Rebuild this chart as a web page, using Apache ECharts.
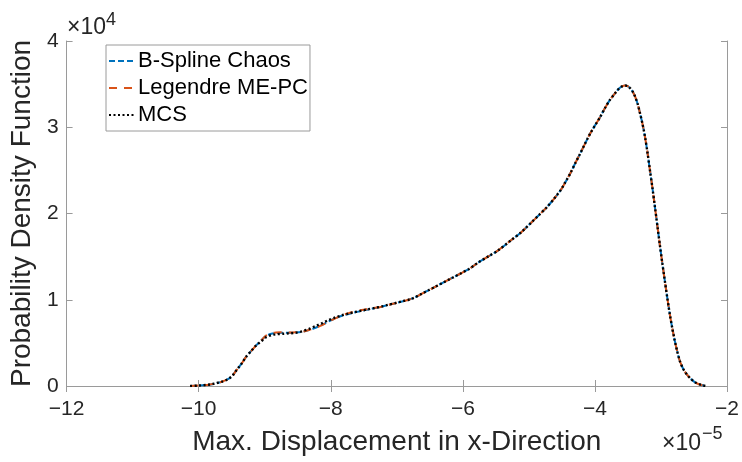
<!DOCTYPE html>
<html>
<head>
<meta charset="utf-8">
<script src="https://cdn.jsdelivr.net/npm/echarts@6/dist/echarts.min.js"></script>
<style>
  html, body { margin: 0; padding: 0; background: #fff; }
  #chart { width: 742px; height: 462px; }
</style>
</head>
<body>
<div id="chart"></div>
<script>
// Displacement in units of 1e-5, density in units of 1e4
const xValues = [-10.13, -10.0, -9.85, -9.75, -9.65, -9.58, -9.5, -9.43, -9.35, -9.28, -9.2, -9.13, -9.05, -8.98, -8.9, -8.83, -8.73, -8.63, -8.53, -8.43, -8.33, -8.23, -8.13, -8.03, -7.93, -7.83, -7.73, -7.63, -7.53, -7.43, -7.33, -7.23, -7.13, -7.02, -6.92, -6.82, -6.72, -6.62, -6.52, -6.42, -6.32, -6.22, -6.12, -6.02, -5.9, -5.77, -5.62, -5.47, -5.27, -5.12, -4.97, -4.85, -4.72, -4.62, -4.52, -4.45, -4.37, -4.3, -4.22, -4.15, -4.07, -4.0, -3.92, -3.85, -3.77, -3.7, -3.643, -3.59, -3.544, -3.505, -3.469, -3.43, -3.393, -3.355, -3.318, -3.28, -3.243, -3.205, -3.168, -3.13, -3.093, -3.055, -3.018, -2.98, -2.942, -2.905, -2.868, -2.83, -2.793, -2.755, -2.718, -2.668, -2.618, -2.555, -2.49, -2.4, -2.314];

const bsplineChaos = [0, 0.005, 0.015, 0.03, 0.05, 0.07, 0.11, 0.18, 0.26, 0.34, 0.41, 0.47, 0.53, 0.58, 0.605, 0.615, 0.618, 0.617, 0.62, 0.628, 0.648, 0.675, 0.71, 0.75, 0.785, 0.815, 0.835, 0.855, 0.872, 0.888, 0.903, 0.92, 0.94, 0.96, 0.98, 1.0, 1.03, 1.07, 1.11, 1.15, 1.19, 1.23, 1.27, 1.31, 1.36, 1.43, 1.5, 1.57, 1.69, 1.78, 1.89, 1.98, 2.08, 2.17, 2.27, 2.36, 2.47, 2.58, 2.7, 2.81, 2.93, 3.02, 3.12, 3.22, 3.32, 3.39, 3.443, 3.474, 3.484, 3.476, 3.454, 3.415, 3.357, 3.275, 3.164, 3.04, 2.893, 2.71, 2.505, 2.3, 2.083, 1.86, 1.64, 1.425, 1.22, 1.025, 0.84, 0.675, 0.531, 0.405, 0.298, 0.205, 0.144, 0.088, 0.046, 0.014, 0];

const legendreMEPC = [0, 0.005, 0.015, 0.03, 0.05, 0.07, 0.11, 0.18, 0.26, 0.34, 0.41, 0.47, 0.53, 0.585, 0.61, 0.62, 0.622, 0.62, 0.622, 0.63, 0.65, 0.675, 0.705, 0.745, 0.785, 0.82, 0.845, 0.865, 0.88, 0.893, 0.906, 0.92, 0.94, 0.96, 0.98, 1.0, 1.03, 1.07, 1.11, 1.15, 1.19, 1.23, 1.27, 1.31, 1.36, 1.43, 1.5, 1.57, 1.69, 1.78, 1.89, 1.98, 2.08, 2.17, 2.27, 2.36, 2.47, 2.58, 2.7, 2.81, 2.93, 3.02, 3.12, 3.22, 3.32, 3.39, 3.443, 3.474, 3.484, 3.476, 3.454, 3.415, 3.357, 3.275, 3.164, 3.04, 2.893, 2.71, 2.505, 2.3, 2.083, 1.86, 1.64, 1.425, 1.22, 1.025, 0.84, 0.675, 0.531, 0.405, 0.298, 0.205, 0.144, 0.088, 0.046, 0.014, 0];

const mcs = [0, 0.005, 0.015, 0.03, 0.05, 0.07, 0.11, 0.18, 0.26, 0.34, 0.41, 0.47, 0.52, 0.565, 0.59, 0.6, 0.605, 0.61, 0.618, 0.635, 0.662, 0.695, 0.73, 0.765, 0.795, 0.82, 0.84, 0.858, 0.874, 0.89, 0.905, 0.922, 0.942, 0.962, 0.982, 1.0, 1.03, 1.07, 1.11, 1.15, 1.19, 1.23, 1.27, 1.31, 1.36, 1.43, 1.5, 1.57, 1.69, 1.78, 1.89, 1.98, 2.08, 2.17, 2.27, 2.36, 2.47, 2.58, 2.7, 2.81, 2.93, 3.02, 3.12, 3.22, 3.32, 3.39, 3.443, 3.474, 3.484, 3.476, 3.454, 3.415, 3.357, 3.275, 3.164, 3.04, 2.893, 2.71, 2.505, 2.3, 2.083, 1.86, 1.64, 1.425, 1.22, 1.025, 0.84, 0.675, 0.531, 0.405, 0.298, 0.205, 0.144, 0.088, 0.046, 0.014, 0];

const seriesNames = ['B-Spline Chaos', 'Legendre ME-PC', 'MCS'];
const xTicks = { min: -12, max: -2, step: 2 };
const yTicks = { min: 0, max: 4, step: 1 };
const yExponent = '4';
const xExponent = '\u22125';

const FONT = '"Liberation Sans", Arial, Helvetica, sans-serif';
const AXIS_GRAY = '#9a9a9a';
const TEXT_DARK = '#262626';

function pairs(ys) {
  return xValues.map((x, i) => [x, ys[i]]);
}

// tick labels use a true minus sign
function minusLabel(v) {
  return String(v).replace('-', '\u2212');
}

function label(text, x, y, size) {
  return {
    type: 'text', x: x, y: y,
    style: { text: text, fontSize: size, fontFamily: FONT, fill: TEXT_DARK, verticalAlign: 'middle', align: 'left' }
  };
}

const chart = echarts.init(document.getElementById('chart'), null, { renderer: 'canvas' });

const boxAxisCommon = {
  axisLine: { show: true, lineStyle: { color: AXIS_GRAY, width: 1 } },
  axisTick: { show: true, inside: true, length: 6, lineStyle: { color: AXIS_GRAY } },
  splitLine: { show: false }
};

chart.setOption({
  animation: false,
  backgroundColor: '#fff',
  grid: { left: 66, right: 11, top: 41, bottom: 76, containLabel: false },
  legend: {
    left: 106,
    top: 45,
    orient: 'vertical',
    data: seriesNames,
    itemWidth: 27,
    itemHeight: 14,
    itemGap: 5,
    padding: [5, 2, 5, 2],
    backgroundColor: '#fff',
    borderColor: AXIS_GRAY,
    borderWidth: 1,
    borderRadius: 0,
    itemStyle: { opacity: 0 },
    textStyle: { fontFamily: FONT, fontSize: 22, color: '#000', padding: [0, 0, 0, -3] }
  },
  xAxis: [
    Object.assign({}, boxAxisCommon, {
      type: 'value',
      min: xTicks.min, max: xTicks.max, interval: xTicks.step,
      position: 'bottom',
      name: 'Max. Displacement in x-Direction',
      nameLocation: 'middle',
      nameGap: 42,
      nameTextStyle: { fontFamily: FONT, fontSize: 28, color: TEXT_DARK },
      axisLabel: { fontFamily: FONT, fontSize: 21, color: TEXT_DARK, margin: 13, formatter: minusLabel }
    }),
    Object.assign({}, boxAxisCommon, {
      type: 'value',
      min: xTicks.min, max: xTicks.max, interval: xTicks.step,
      position: 'top',
      axisLabel: { show: false }
    })
  ],
  yAxis: [
    Object.assign({}, boxAxisCommon, {
      type: 'value',
      min: yTicks.min, max: yTicks.max, interval: yTicks.step,
      position: 'left',
      name: 'Probability Density Function',
      nameLocation: 'middle',
      nameGap: 28,
      nameTextStyle: { fontFamily: FONT, fontSize: 28, color: TEXT_DARK },
      axisLabel: { fontFamily: FONT, fontSize: 21, color: TEXT_DARK, margin: 8 }
    }),
    Object.assign({}, boxAxisCommon, {
      type: 'value',
      min: yTicks.min, max: yTicks.max, interval: yTicks.step,
      position: 'right',
      axisLabel: { show: false }
    })
  ],
  series: [
    {
      name: seriesNames[0],
      type: 'line',
      data: pairs(bsplineChaos),
      smooth: 0.3,
      symbol: 'none',
      lineStyle: { color: '#0072BD', width: 2, type: [6, 3] },
      itemStyle: { color: '#0072BD' },
      z: 2
    },
    {
      name: seriesNames[1],
      type: 'line',
      data: pairs(legendreMEPC),
      smooth: 0.3,
      symbol: 'none',
      lineStyle: { color: '#D95319', width: 2, type: [8, 7] },
      itemStyle: { color: '#D95319' },
      z: 3
    },
    {
      name: seriesNames[2],
      type: 'line',
      data: pairs(mcs),
      smooth: 0.3,
      symbol: 'none',
      lineStyle: { color: '#000000', width: 2.4, type: [2, 2.5] },
      itemStyle: { color: '#000000' },
      z: 4
    }
  ],
  graphic: [
    // y-axis scale factor
    label('×10', 67, 28, 23),
    label(yExponent, 106, 20, 18),
    // x-axis scale factor
    label('×10', 662, 444, 23),
    label(xExponent, 702, 434, 18)
  ]
});
</script>
</body>
</html>
